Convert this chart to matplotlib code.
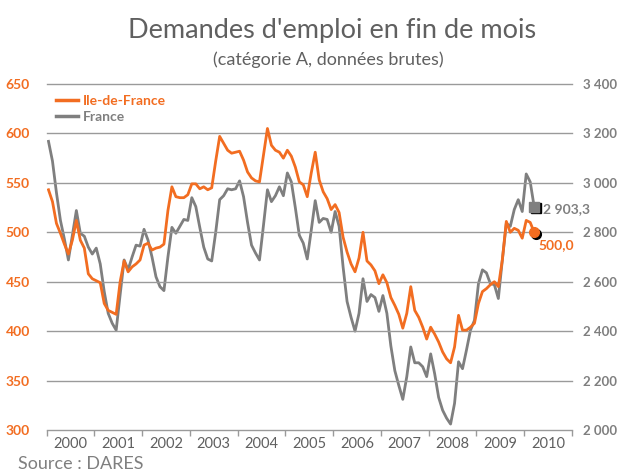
import numpy as np
import matplotlib
matplotlib.use("Agg")
import matplotlib.pyplot as plt
from matplotlib.lines import Line2D
import matplotlib.transforms as mtransforms

# ---------------- data ----------------
years = [2000, 2001, 2002, 2003, 2004, 2005, 2006, 2007, 2008, 2009, 2010]
year_labels = [str(y) for y in years]

# Monthly values, Jan 2000 -> Mar 2010 (thousands)
idf = [543, 531, 509, 499, 488, 478, 492, 512, 492, 484, 458, 453,
       451, 449, 428, 421, 419, 417, 450, 471, 460, 465, 468, 472,
       487, 489, 482, 484, 485, 488, 522, 546, 536, 535, 535, 538,
       549, 549, 544, 546, 543, 545, 572, 597, 590, 583, 580, 581,
       582, 573, 561, 555, 552, 551, 578, 605, 588, 583, 581, 575,
       583, 577, 566, 551, 548, 536, 560, 581, 553, 541, 534, 523,
       528, 520, 495, 480, 468, 460, 474, 500, 471, 467, 461, 448,
       457, 449, 434, 426, 417, 403, 418, 445, 421, 414, 404, 392,
       404, 397, 389, 379, 372, 368, 384, 416, 401, 401, 404, 408,
       428, 440, 443, 447, 450, 445, 472, 511, 500, 504, 502, 494,
       512, 510, 500.0]

france = [3168, 3088, 2960, 2848, 2772, 2688, 2788, 2888, 2796, 2784, 2740, 2712,
          2736, 2672, 2560, 2472, 2432, 2404, 2548, 2688, 2648, 2700, 2748, 2744,
          2812, 2768, 2700, 2620, 2580, 2564, 2700, 2820, 2796, 2824, 2852, 2848,
          2940, 2904, 2820, 2740, 2692, 2684, 2800, 2932, 2948, 2976, 2972, 2976,
          3008, 2944, 2840, 2748, 2716, 2688, 2828, 2972, 2924, 2948, 2984, 2948,
          3040, 3004, 2900, 2788, 2756, 2692, 2808, 2928, 2840, 2856, 2852, 2800,
          2884, 2824, 2660, 2520, 2456, 2400, 2472, 2612, 2520, 2548, 2536, 2480,
          2544, 2472, 2340, 2240, 2180, 2124, 2216, 2336, 2272, 2272, 2256, 2216,
          2308, 2228, 2132, 2080, 2048, 2024, 2108, 2276, 2248, 2324, 2404, 2444,
          2592, 2648, 2636, 2592, 2588, 2532, 2688, 2836, 2824, 2892, 2932, 2884,
          3036, 3004, 2903.3]

left_ticks = [300, 350, 400, 450, 500, 550, 600, 650]
right_ticks = [2000, 2200, 2400, 2600, 2800, 3000, 3200, 3400]

title = "Demandes d'emploi en fin de mois"
subtitle = "(catégorie A, données brutes)"
source = "Source : DARES"
series_names = ["Ile-de-France", "France"]

# ---------------- style ----------------
ORANGE = "#F26D21"
GREY = "#7F7F7F"
GRID = "#9A9A9A"
TXT = "#606060"
FONT = ["Lato", "DejaVu Sans"]
plt.rcParams["font.family"] = FONT

W, H = 618, 473
fig = plt.figure(figsize=(W / 100, H / 100), dpi=100)
fig.patch.set_facecolor("white")

x0, x1, ytop, ybot = 46.5, 572, 84, 430
ax = fig.add_axes([x0 / W, 1 - ybot / H, (x1 - x0) / W, (ybot - ytop) / H])
ax2 = ax.twinx()

n = len(idf)
x = 2000 + (np.arange(n) + 0.5) / 12.0

ax.set_xlim(2000, 2011)
ax.set_ylim(300, 650)
ax2.set_ylim(2000, 3400)

ax2.plot(x, france, color=GREY, lw=2.0, solid_joinstyle="round", zorder=3)
ax.plot(x, idf, color=ORANGE, lw=2.0, solid_joinstyle="round", zorder=4)
ax.set_zorder(ax2.get_zorder() + 1)
ax.patch.set_visible(False)

# grid
for v in left_ticks[1:]:
    ax.axhline(v, color=GRID, lw=1.0, zorder=0, clip_on=False)

for a in (ax, ax2):
    for s in ("top", "left", "right"):
        a.spines[s].set_visible(False)
ax2.spines["bottom"].set_visible(False)
ax.spines["bottom"].set_color(GRID)
ax.spines["bottom"].set_linewidth(1.0)

# x axis: ticks at year boundaries, labels centered
ax.set_xticks(list(range(2000, 2012)))
ax.set_xticklabels([])
ax.tick_params(axis="x", direction="out", length=4, color=GRID, width=1)
ax.set_xticks([y + 0.5 for y in years], minor=True)
ax.set_xticklabels(year_labels, minor=True)
ax.tick_params(axis="x", which="minor", length=0, pad=5, labelsize=10.5, labelcolor=TXT)

ax.set_yticks(left_ticks)
ax.set_yticklabels([str(v) for v in left_ticks], fontsize=10, fontweight="bold", color=ORANGE)
ax.tick_params(axis="y", length=0, pad=12)

ax2.set_yticks(right_ticks)
ax2.set_yticklabels([f"{v:,}".replace(",", " ") for v in right_ticks],
                    fontsize=9.5, fontweight="bold", color=GREY)
ax2.tick_params(axis="y", length=0, pad=8)

# end markers with shadow
shadow = mtransforms.offset_copy(ax2.transData, fig=fig, x=1.2, y=-1.2, units="points")
ax2.plot([x[-1]], [france[-1]], marker="s", ms=7, color="black", transform=shadow, zorder=5, clip_on=False)
ax2.plot([x[-1]], [france[-1]], marker="s", ms=7, color=GREY, zorder=6, clip_on=False)
shadow1 = mtransforms.offset_copy(ax.transData, fig=fig, x=1.2, y=-1.2, units="points")
ax.plot([x[-1]], [idf[-1]], marker="o", ms=7, color="black", transform=shadow1, zorder=5, clip_on=False)
ax.plot([x[-1]], [idf[-1]], marker="o", ms=7, color=ORANGE, zorder=6, clip_on=False)

ax2.annotate(f"{france[-1]:,.1f}".replace(",", " ").replace(".", ","), (x[-1], france[-1]),
             xytext=(6, -2), textcoords="offset points", ha="left", va="center",
             fontsize=10, fontweight="bold", color=GREY)
ax.annotate(f"{idf[-1]:.1f}".replace(".", ","), (x[-1], idf[-1]),
            xytext=(3, -9), textcoords="offset points", ha="left", va="center",
            fontsize=10, fontweight="bold", color=ORANGE)

# legend
handles = [Line2D([], [], color=ORANGE, lw=2.5), Line2D([], [], color=GREY, lw=2.5)]
leg = ax.legend(handles, series_names, loc="upper left", bbox_to_anchor=(-0.003, 1.0),
                frameon=False, handlelength=1.6, handletextpad=0.35, labelspacing=0.3,
                prop={"size": 10, "weight": "bold"}, borderaxespad=0.4)
for t, c in zip(leg.get_texts(), [ORANGE, GREY]):
    t.set_color(c)

# titles and source
fig.text(332 / W, 1 - 38 / H, title, ha="center", va="baseline", fontsize=19.5, color=TXT)
fig.text(328 / W, 1 - 65 / H, subtitle, ha="center", va="baseline", fontsize=13, color=TXT)
fig.text(18 / W, 1 - 469 / H, source, ha="left", va="baseline", fontsize=13, color=GREY)

fig.savefig("out.png", dpi=100, facecolor="white")
